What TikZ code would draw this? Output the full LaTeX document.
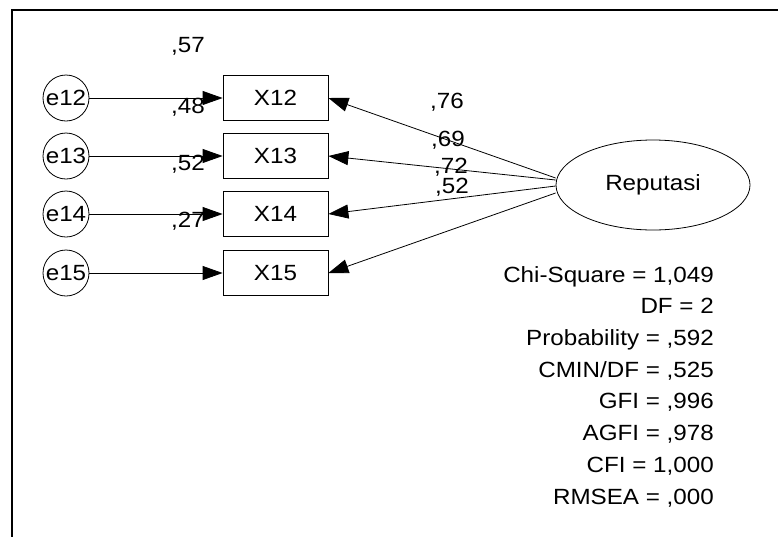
\documentclass[tikz,border=0pt]{standalone}
\usepackage{fontspec}
\setmainfont[FakeStretch=1.1]{Liberation Sans}
\usetikzlibrary{arrows.meta,shapes.geometric}
\begin{document}
\begin{tikzpicture}[x=1pt,y=-1pt,
  txt/.style={font=\fontsize{22}{24}\selectfont, inner sep=0pt},
  obs/.style={draw, line width=0.8pt, minimum width=105pt, minimum height=45pt, inner sep=0pt, font=\fontsize{22}{24}\selectfont},
  err/.style={draw, circle, line width=0.8pt, minimum size=46pt, inner sep=0pt, font=\fontsize{22}{24}\selectfont},
  lat/.style={draw, ellipse, line width=0.8pt, minimum width=194pt, minimum height=90pt, inner sep=0pt, font=\fontsize{22}{24}\selectfont},
  arr/.style={-{Triangle[length=20pt,width=14pt]}, line width=0.8pt}]
\useasboundingbox (0,0) rectangle (778,536);
\draw[line width=2pt] (12,540) -- (12,10) -- (780,10);

\node[err] (e12) at (66,98) {e12};
\node[err] (e13) at (66,156) {e13};
\node[err] (e14) at (66,214) {e14};
\node[err] (e15) at (66,273) {e15};

\node[obs] (x12) at (275.5,98) {X12};
\node[obs] (x13) at (275.5,156) {X13};
\node[obs] (x14) at (275.5,214) {X14};
\node[obs] (x15) at (275.5,273) {X15};

\node[lat] (rep) at (653,185) {Reputasi};

\draw[arr] (e12) -- (x12);
\draw[arr] (e13) -- (x13);
\draw[arr] (e14) -- (x14);
\draw[arr] (e15) -- (x15);

\draw[arr] ([yshift=7pt]rep.west) -- (x12.east);
\draw[arr] ([yshift=5pt]rep.west) -- (x13.east);
\draw[arr] ([yshift=-1pt]rep.west) -- (x14.east);
\draw[arr] ([yshift=-8pt]rep.west) -- (x15.east);

\node[txt] (r57) at (188,46) {,57};
\node[txt] (r48) at (188,107) {,48};
\node[txt] (r52) at (188,164) {,52};
\node[txt] (r27) at (188,221) {,27};

\node[txt] (l76) at (447,102) {,76};
\node[txt] (l69) at (448,140) {,69};
\node[txt] (l72) at (451,167) {,72};
\node[txt] (l52) at (452,187) {,52};

\node[txt, anchor=north east, align=right, font=\fontsize{22}{31.7}\selectfont] (fit) at (714,266)
{Chi-Square = 1,049\\ DF = 2\\ Probability = ,592\\ CMIN/DF = ,525\\ GFI = ,996\\ AGFI = ,978\\ CFI = 1,000\\ RMSEA = ,000};
\end{tikzpicture}
\end{document}
